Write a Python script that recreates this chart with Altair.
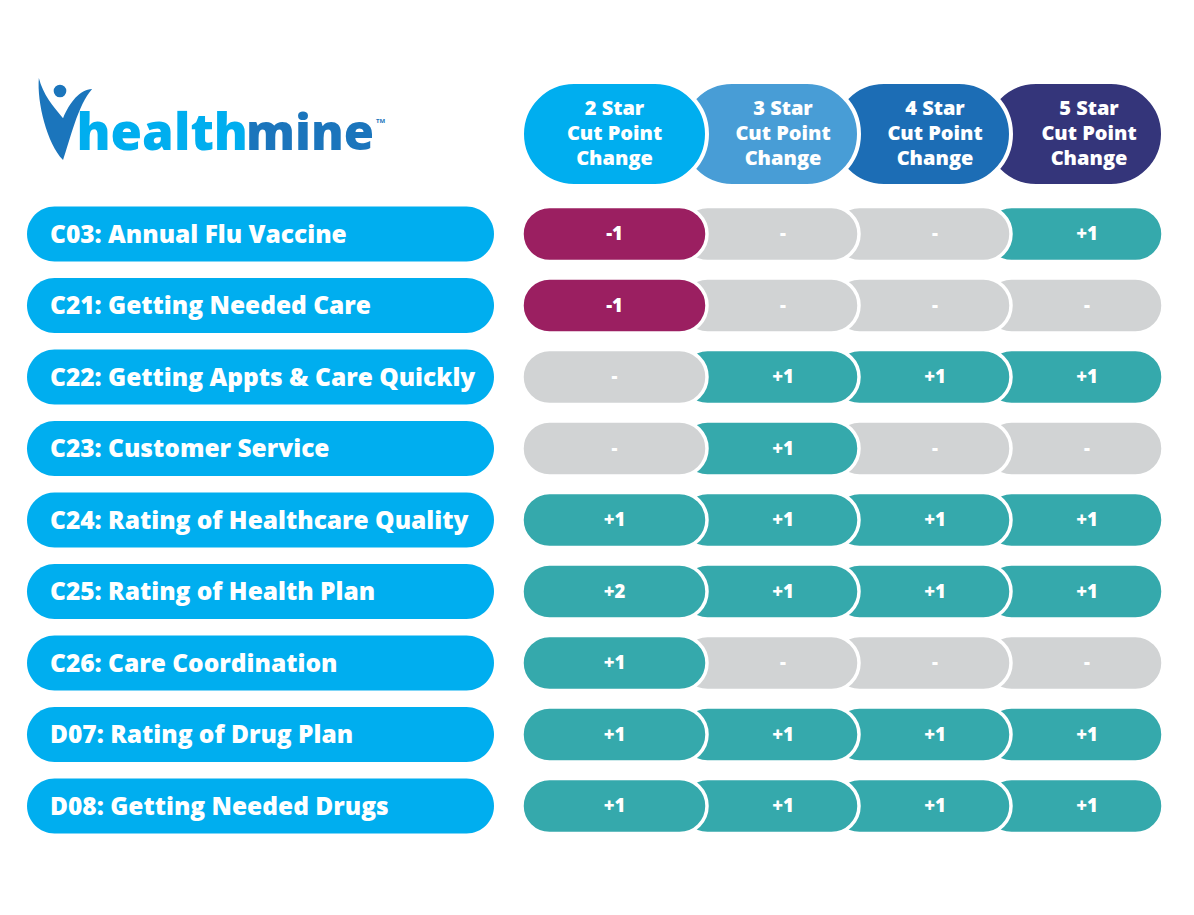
import altair as alt
import pandas as pd

# ---------------- data ----------------
measures = [
    "C03: Annual Flu Vaccine",
    "C21: Getting Needed Care",
    "C22: Getting Appts & Care Quickly",
    "C23: Customer Service",
    "C24: Rating of Healthcare Quality",
    "C25: Rating of Health Plan",
    "C26: Care Coordination",
    "D07: Rating of Drug Plan",
    "D08: Getting Needed Drugs",
]
star_levels = ["2 Star", "3 Star", "4 Star", "5 Star"]
header_lines = ["Cut Point", "Change"]
change_2star = ["-1", "-1", "-", "-", "+1", "+2", "+1", "+1", "+1"]
change_3star = ["-", "-", "+1", "+1", "+1", "+1", "-", "+1", "+1"]
change_4star = ["-", "-", "+1", "-", "+1", "+1", "-", "+1", "+1"]
change_5star = ["+1", "-", "+1", "-", "+1", "+1", "-", "+1", "+1"]
changes = [change_2star, change_3star, change_4star, change_5star]
logo_parts = ["health", "mine"]

# ---------------- layout (page pixels) ----------------
W, H = 1178, 899
X0, Y0 = 8, 8
GRID_LEFT = 522
FIRST_RIGHT = 707
COL_PITCH = 152
CAP = 27
ROW_C0 = 234
ROW_PITCH = 71.5
PILL_H = 55
LABEL_L, LABEL_R, LABEL_TX = 27, 494, 50
HEAD_T, HEAD_B = 82, 186


def col_right(i):
    return FIRST_RIGHT + COL_PITCH * i


def col_left(i):
    return GRID_LEFT if i == 0 else col_right(i - 1) - CAP


def col_center(i):
    lv = GRID_LEFT if i == 0 else col_right(i - 1)
    return (lv + col_right(i)) / 2


def row_c(r):
    return ROW_C0 + ROW_PITCH * r


def status(v):
    if v.startswith("-") and len(v) > 1:
        return "neg"
    if v.startswith("+"):
        return "pos"
    return "none"


n = len(measures)
lab = pd.DataFrame({
    "label": measures,
    "x": [LABEL_L] * n,
    "x2": [LABEL_R] * n,
    "tx": [LABEL_TX] * n,
    "y": [row_c(r) - PILL_H / 2 for r in range(n)],
    "y2": [row_c(r) + PILL_H / 2 for r in range(n)],
    "yc": [row_c(r) for r in range(n)],
})

# cells (right-most drawn first so the left pills overlap them)
cell_rows = []
for i in reversed(range(len(star_levels))):
    for r, m in enumerate(measures):
        v = changes[i][r]
        cell_rows.append({
            "measure": m, "level": star_levels[i], "value": v,
            "status": status(v),
            "x": col_left(i), "x2": col_right(i), "xc": col_center(i),
            "y": row_c(r) - PILL_H / 2, "y2": row_c(r) + PILL_H / 2, "yc": row_c(r),
        })
cells = pd.DataFrame(cell_rows)

heads = pd.DataFrame([
    {"level": star_levels[i], "x": col_left(i), "x2": col_right(i), "y": HEAD_T, "y2": HEAD_B}
    for i in reversed(range(len(star_levels)))
])

htext = pd.DataFrame([
    {"text": t, "xc": col_center(i) + (2 if i == 3 else 0), "yc": 109 + 25 * k}
    for i, lv in enumerate(star_levels)
    for k, t in enumerate([lv] + header_lines)
])

xs = alt.Scale(domain=[X0, X0 + W], nice=False, zero=False)
ys = alt.Scale(domain=[Y0, Y0 + H], nice=False, zero=False, reverse=True)


def X(f):
    return alt.X(f, type="quantitative", scale=xs, axis=None)


def Y(f):
    return alt.Y(f, type="quantitative", scale=ys, axis=None)


label_pills = alt.Chart(lab).mark_rect(cornerRadius=27.5, color="#00AEEF").encode(
    x=X("x"), x2="x2", y=Y("y"), y2="y2")
label_text = alt.Chart(lab).mark_text(
    align="left", baseline="middle", font="Open Sans", fontWeight=800,
    fontSize=24.5, dy=1.5, color="white").encode(x=X("tx"), y=Y("yc"), text="label:N")

cell_pills = alt.Chart(cells).mark_rect(
    cornerRadius=27.5, stroke="white", strokeWidth=3.5).encode(
    x=X("x"), x2="x2", y=Y("y"), y2="y2",
    color=alt.Color("status:N", legend=None,
                    scale=alt.Scale(domain=["neg", "none", "pos"],
                                    range=["#9B1F61", "#D1D3D4", "#35A9AC"])))
cell_text = alt.Chart(cells).mark_text(
    align="center", baseline="middle", font="Open Sans", fontWeight=800,
    fontSize=18.5, color="white").encode(x=X("xc"), y=Y("yc"), text="value:N")

head_pills = alt.Chart(heads).mark_rect(
    cornerRadius=52, stroke="white", strokeWidth=4).encode(
    x=X("x"), x2="x2", y=Y("y"), y2="y2",
    color=alt.Color("level:N", legend=None,
                    scale=alt.Scale(domain=star_levels,
                                    range=["#00AEEF", "#489DD6", "#1C6DB5", "#34357A"])))
head_text = alt.Chart(htext).mark_text(
    align="center", baseline="middle", font="Open Sans", fontWeight=800,
    fontSize=20, color="white").encode(x=X("xc"), y=Y("yc"), text="text:N")

# ---------------- logo ----------------
logo_words = pd.DataFrame({"text": logo_parts, "x": [248, 246], "y": [150, 150]})
logo_health = alt.Chart(logo_words[logo_words.text == "health"]).mark_text(
    align="right", baseline="alphabetic", font="Open Sans", fontWeight=800,
    fontSize=51, color="#00AEEF").encode(x=X("x"), y=Y("y"), text="text:N")
logo_mine = alt.Chart(logo_words[logo_words.text == "mine"]).mark_text(
    align="left", baseline="alphabetic", font="Open Sans", fontWeight=800,
    fontSize=49, color="#1B75BC").encode(x=X("x"), y=Y("y"), text="text:N")
tm = alt.Chart(pd.DataFrame({"t": ["TM"], "x": [376], "y": [121]})).mark_text(
    align="left", baseline="middle", font="Open Sans", fontWeight=700, fontSize=6,
    color="#1B75BC").encode(x=X("x"), y=Y("y"), text="t:N")

swoosh_path = ("M-0.65,-1 C-0.7,-0.4 -0.45,0.6 -0.06,1 "
               "C0.1,0.55 0.3,-0.35 0.65,-0.73 "
               "C0.35,-0.72 0.1,-0.4 -0.06,-0.02 "
               "C-0.3,-0.3 -0.55,-0.6 -0.65,-1 Z")
figure = alt.Chart(pd.DataFrame({"x": [65.5], "y": [119]})).mark_point(
    shape=swoosh_path, filled=True, size=82 * 82, color="#1B75BC", opacity=1,
    strokeWidth=0).encode(x=X("x"), y=Y("y"))
head_dot = alt.Chart(pd.DataFrame({"x": [60], "y": [91]})).mark_point(
    shape="circle", filled=True, size=160, color="#1B75BC", opacity=1,
    strokeWidth=0).encode(x=X("x"), y=Y("y"))

chart = alt.layer(
    label_pills, label_text, head_pills, head_text, cell_pills, cell_text,
    logo_health, logo_mine, figure, head_dot, tm
).resolve_scale(color="independent").properties(
    width=W, height=H, padding=0, autosize=alt.AutoSizeParams(type="none"),
    background="white"
).configure_view(stroke=None)

chart.save("out.html", embed_options={"renderer": "svg", "actions": False})
